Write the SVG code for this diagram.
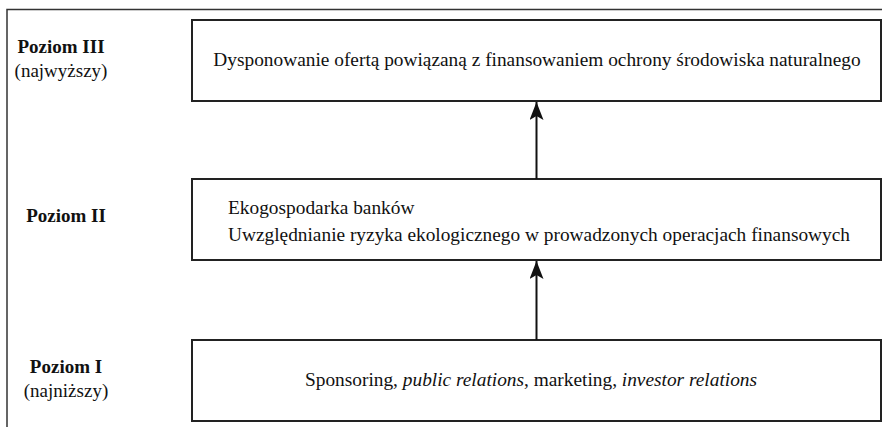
<svg xmlns="http://www.w3.org/2000/svg" width="882" height="427" viewBox="0 0 882 427">
  <defs>
    <marker id="arrowhead" markerWidth="18" markerHeight="14" refX="18" refY="7" orient="auto" markerUnits="userSpaceOnUse" viewBox="0 0 18 14">
      <path d="M0,0 L18,7 L0,14 L4,7 Z" fill="#111"/>
    </marker>
    <style>
      .frame { fill: none; stroke: #333; stroke-width: 1.5; }
      .box { fill: #fff; stroke: #222; stroke-width: 2; }
      .txt { font-family: "Liberation Serif", "Times New Roman", serif; font-size: 19.35px; fill: #111; }
      .lvl { font-family: "Liberation Serif", "Times New Roman", serif; font-size: 19px; fill: #111; text-anchor: middle; }
      .b { font-weight: bold; }
      .it { font-style: italic; }
      .conn { stroke: #111; stroke-width: 2; fill: none; }
    </style>
  </defs>

  <rect width="882" height="427" fill="#fff"/>

  <!-- outer frame (open at right and bottom edges) -->
  <rect class="frame" x="7" y="9.5" width="900" height="430"/>

  <!-- level labels -->
  <g id="label-level-3">
    <text class="lvl b" x="61" y="53">Poziom III</text>
    <text class="lvl" x="61" y="77">(najwyższy)</text>
  </g>
  <g id="label-level-2">
    <text class="lvl b" x="66" y="222">Poziom II</text>
  </g>
  <g id="label-level-1">
    <text class="lvl b" x="66" y="373">Poziom I</text>
    <text class="lvl" x="66" y="397">(najniższy)</text>
  </g>

  <!-- nodes -->
  <g id="node-level-3">
    <rect class="box" x="192" y="20" width="689" height="81"/>
    <text class="txt" x="537" y="66" text-anchor="middle">Dysponowanie ofertą powiązaną z finansowaniem ochrony środowiska naturalnego</text>
  </g>
  <g id="node-level-2">
    <rect class="box" x="192" y="179" width="689" height="81"/>
    <text class="txt" x="228" y="214">Ekogospodarka banków</text>
    <text class="txt" x="228" y="241">Uwzględnianie ryzyka ekologicznego w prowadzonych operacjach finansowych</text>
  </g>
  <g id="node-level-1">
    <rect class="box" x="192" y="340" width="689" height="81"/>
    <text class="txt" x="531" y="386" text-anchor="middle">Sponsoring, <tspan class="it">public relations</tspan>, marketing, <tspan class="it">investor relations</tspan></text>
  </g>

  <!-- connectors -->
  <g id="connectors">
    <line class="conn" x1="536.5" y1="179" x2="536.5" y2="102" marker-end="url(#arrowhead)"/>
    <line class="conn" x1="536.5" y1="340" x2="536.5" y2="261" marker-end="url(#arrowhead)"/>
  </g>
</svg>
